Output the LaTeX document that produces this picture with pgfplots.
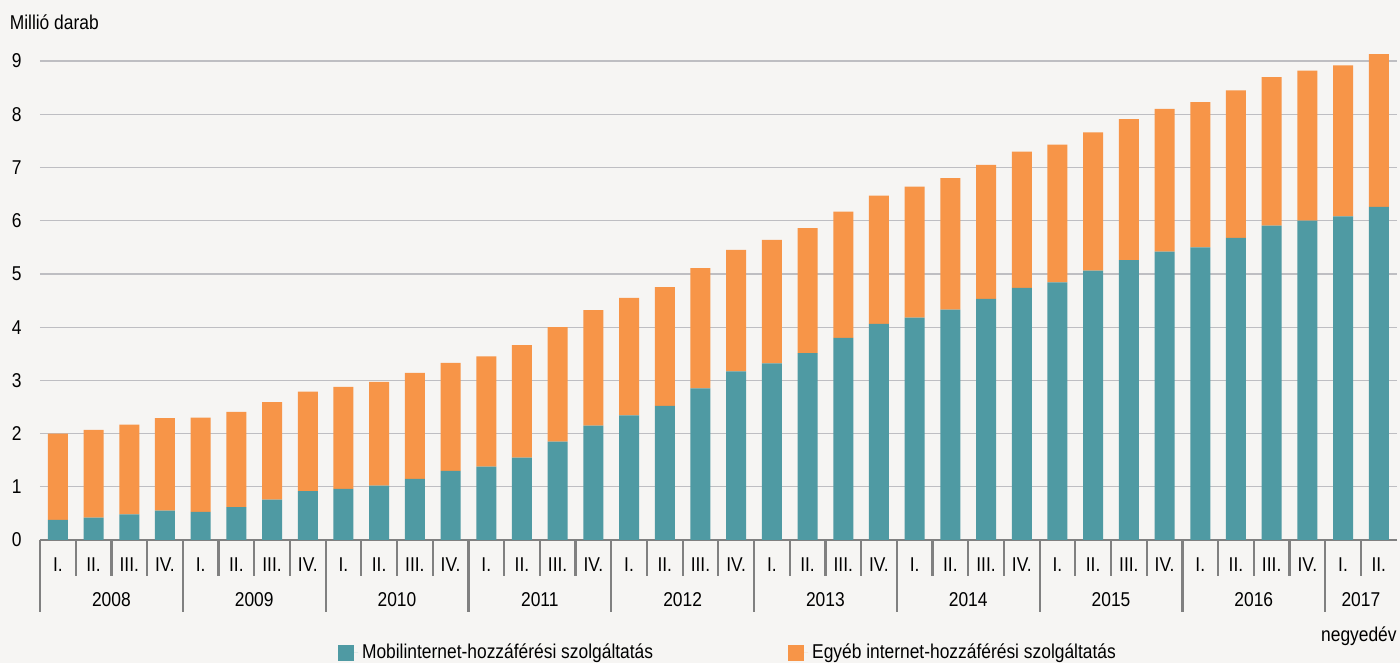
\documentclass[border=0pt]{standalone}
\usepackage{pgfplots}
\pgfplotsset{compat=1.18}
\usepackage{pgfplotstable}
\usepackage{fontspec}
\setmainfont{Liberation Sans}[FakeStretch=0.87]
\definecolor{bg}{HTML}{F6F5F3}
\definecolor{mobil}{HTML}{4F9AA3}
\definecolor{egyeb}{HTML}{F79548}
\definecolor{gridc}{HTML}{BEBEC2}
\definecolor{axc}{HTML}{808080}

\pgfplotstableread{
x mobil egyeb
0 0.38 1.62
1 0.42 1.65
2 0.48 1.69
3 0.55 1.74
4 0.53 1.77
5 0.62 1.79
6 0.76 1.83
7 0.92 1.87
8 0.96 1.92
9 1.02 1.95
10 1.15 1.99
11 1.30 2.03
12 1.38 2.07
13 1.55 2.11
14 1.85 2.15
15 2.15 2.17
16 2.34 2.21
17 2.52 2.23
18 2.85 2.26
19 3.17 2.28
20 3.32 2.32
21 3.51 2.35
22 3.80 2.37
23 4.06 2.41
24 4.18 2.46
25 4.33 2.47
26 4.53 2.52
27 4.74 2.56
28 4.84 2.59
29 5.06 2.60
30 5.26 2.65
31 5.42 2.68
32 5.50 2.73
33 5.68 2.77
34 5.91 2.79
35 6.00 2.82
36 6.08 2.84
37 6.26 2.87
}\datatable

\begin{document}
\begin{tikzpicture}[x=1pt,y=1pt]
\fill[bg] (0,0) rectangle (700,331.5);
\node[anchor=base west, inner sep=0pt] at (4.7,316.9) {Millió darab};
\node[anchor=base east, inner sep=0pt] at (698.5,10.75) {negyedév};
\begin{axis}[
  at={(20pt,61.5pt)}, anchor=south west,
  scale only axis, width=678.3pt, height=250.1pt,
  xmin=-0.5, xmax=37.5, ymin=0, ymax=9.4,
  ybar stacked, bar width=10pt,
  axis x line*=bottom, axis y line*=left,
  y axis line style={draw=none},
  x axis line style={draw=axc, line width=1.4pt},
  ytick={0,...,9},
  ymajorgrids, grid style={draw=gridc, line width=0.6pt},
  ytick style={draw=none}, xtick style={draw=none},
  xtick={0,...,37},
  xticklabels={I.,II.,III.,IV.,I.,II.,III.,IV.,I.,II.,III.,IV.,I.,II.,III.,IV.,I.,II.,III.,IV.,I.,II.,III.,IV.,I.,II.,III.,IV.,I.,II.,III.,IV.,I.,II.,III.,IV.,I.,II.},
  xticklabel style={anchor=center, yshift=-12.5pt},
  yticklabel style={xshift=-5.7pt},
  /pgf/number format/assume math mode=true,
  clip=false,
  legend columns=2,
  legend image code/.code={\fill[#1] (0pt,-4pt) rectangle (8pt,4pt); \path (0pt,0pt) -- (10pt,0pt);},
  legend style={draw=none, fill=none, inner sep=0pt, outer sep=0pt,
    at={(0.2197,-0.2259)}, anchor=west,
    /tikz/every even column/.append style={column sep=65.5pt}},
]
\addplot[fill=mobil, draw=none] table[x=x, y=mobil] {\datatable};
\addplot[fill=egyeb, draw=none] table[x=x, y=egyeb] {\datatable};
\legend{Mobilinternet-hozzáférési szolgáltatás, Egyéb internet-hozzáférési szolgáltatás}
\pgfplotsinvokeforeach{-0.5,0.5,...,36.5}{\draw[axc, line width=1.1pt] (axis cs:#1,0) -- ++(0pt,-18pt);}
\pgfplotsinvokeforeach{-0.5,3.5,...,35.5}{\draw[axc, line width=1.1pt] (axis cs:#1,0) -- ++(0pt,-36pt);}
\node[anchor=center] at (axis cs:1.5,0) [yshift=-30pt] {2008};
\node[anchor=center] at (axis cs:5.5,0) [yshift=-30pt] {2009};
\node[anchor=center] at (axis cs:9.5,0) [yshift=-30pt] {2010};
\node[anchor=center] at (axis cs:13.5,0) [yshift=-30pt] {2011};
\node[anchor=center] at (axis cs:17.5,0) [yshift=-30pt] {2012};
\node[anchor=center] at (axis cs:21.5,0) [yshift=-30pt] {2013};
\node[anchor=center] at (axis cs:25.5,0) [yshift=-30pt] {2014};
\node[anchor=center] at (axis cs:29.5,0) [yshift=-30pt] {2015};
\node[anchor=center] at (axis cs:33.5,0) [yshift=-30pt] {2016};
\node[anchor=center] at (axis cs:36.5,0) [yshift=-30pt] {2017};
\end{axis}
\pgfresetboundingbox
\path (0,0) rectangle (700,331.5);
\end{tikzpicture}
\end{document}
